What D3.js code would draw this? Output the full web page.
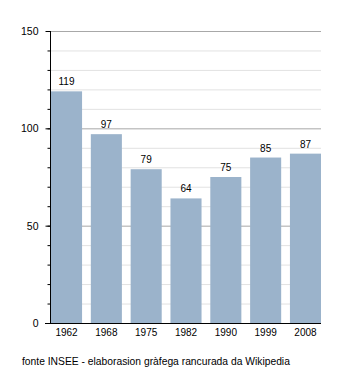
<!DOCTYPE html>
<html><head><meta charset="utf-8">
<script src="https://cdn.jsdelivr.net/npm/d3@7"></script>
<style>body{margin:0;background:#fff}svg{display:block;font-family:"Liberation Sans",Arial,sans-serif}</style>
</head><body><svg id="c" width="350" height="373"></svg>
<script>
const years = ["1962","1968","1975","1982","1990","1999","2008"];
const values = [119,97,79,64,75,85,87];
const majorTicks = [0,50,100,150];
const minorTicks = d3.range(0,151,10);
const source = "fonte INSEE - elaborasion gràfega rancurada da Wikipedia";

const svg = d3.select("#c");
const L=50, R=321, T=31, B=323;
const x = d3.scaleBand().domain(years).range([L+1,R]).paddingInner(0.22).paddingOuter(0);
const y = d3.scaleLinear().domain([0,150]).range([B,T]);

// grid
svg.append("g").selectAll("line").data(minorTicks.filter(d=>d%50!==0)).join("line")
  .attr("x1",L).attr("x2",R).attr("y1",d=>y(d)+0.5).attr("y2",d=>y(d)+0.5)
  .attr("stroke","#e2e2e2").attr("stroke-width",1);
svg.append("g").selectAll("line").data(majorTicks.filter(d=>d>0)).join("line")
  .attr("x1",L).attr("x2",R).attr("y1",d=>y(d)+0.5).attr("y2",d=>y(d)+0.5)
  .attr("stroke","#a8a8a8").attr("stroke-width",1);

// bars
svg.append("g").selectAll("rect").data(years).join("rect")
  .attr("x",d=>x(d)).attr("width",x.bandwidth())
  .attr("y",(d,i)=>y(values[i])).attr("height",(d,i)=>B-y(values[i]))
  .attr("fill","#9bb3cb");

// value labels
svg.append("g").selectAll("text").data(years).join("text")
  .attr("x",d=>x(d)+x.bandwidth()/2).attr("y",(d,i)=>y(values[i])-6)
  .attr("text-anchor","middle").attr("font-size","10px").attr("fill","#000")
  .text((d,i)=>values[i]);

// y axis
const yMinor = d3.axisLeft(y).tickValues(minorTicks).tickSize(3).tickFormat("");
const gm = svg.append("g").attr("transform",`translate(${L+0.5},0)`).call(yMinor);
gm.select(".domain").remove();
gm.selectAll("line").attr("stroke","#000");
const yAxis = d3.axisLeft(y).tickValues(majorTicks).tickSize(5).tickPadding(7);
const gy = svg.append("g").attr("transform",`translate(${L+0.5},0)`).call(yAxis);
gy.select(".domain").attr("d",`M0,${T}V${B}`).attr("stroke","#000");
gy.selectAll("line").attr("stroke","#000");
gy.selectAll("text").attr("font-size","10.5px").attr("font-family","Liberation Sans, Arial, sans-serif").attr("fill","#000");

// x axis
const xAxis = d3.axisBottom(x).tickSize(0).tickPadding(5);
const gx = svg.append("g").attr("transform",`translate(0,${B+0.5})`).call(xAxis);
gx.select(".domain").attr("d",`M${L-5},0H${R}`).attr("stroke","#000");
gx.selectAll("text").attr("font-size","10px").attr("font-family","Liberation Sans, Arial, sans-serif").attr("fill","#000");

svg.append("text").attr("x",22).attr("y",365).attr("font-size","10.3px").attr("fill","#000").text(source);
</script></body></html>
